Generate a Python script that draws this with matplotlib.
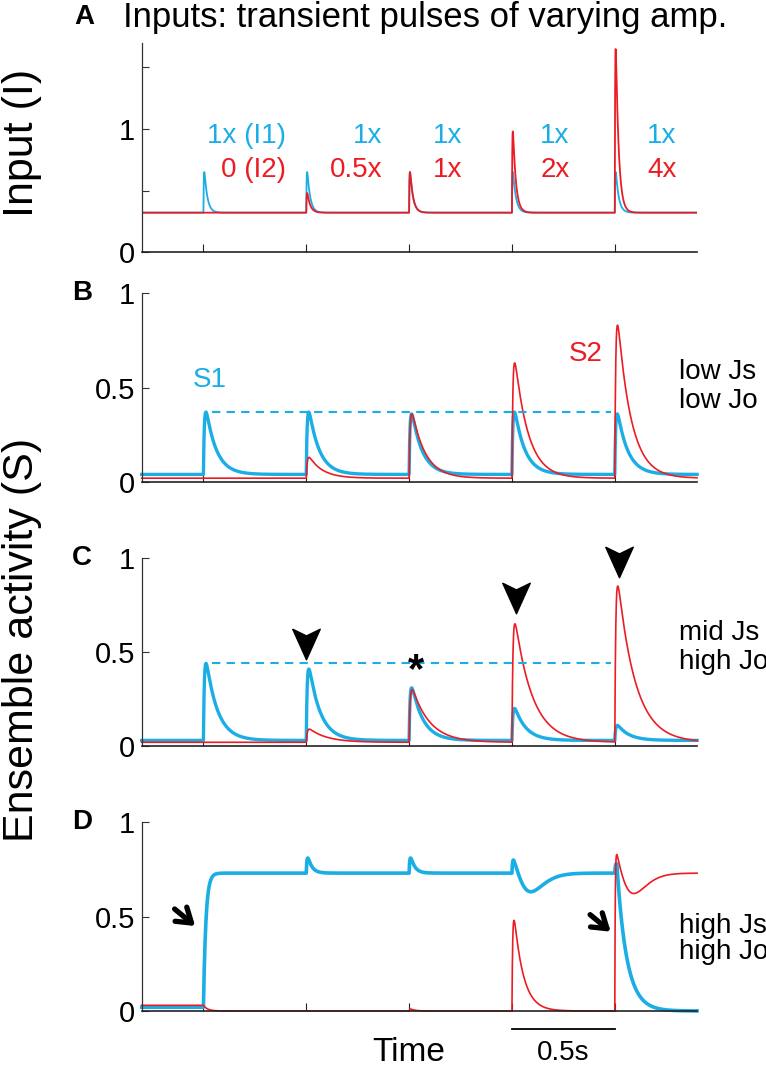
import numpy as np
import matplotlib
matplotlib.use('Agg')
import matplotlib.pyplot as plt

plt.rcParams['font.family'] = ['Liberation Sans', 'DejaVu Sans']

BLUE = '#1BAEE5'
RED = '#EC1C24'

# --- DATA ---
pulse_t = [0.3, 0.8, 1.3, 1.8, 2.3]      # onset of each input pulse (s)
t_end = 2.7

# A: inputs
in_base = 0.32
in1_peak = [0.65, 0.65, 0.65, 0.65, 0.65]
in2_peak = [0.32, 0.48, 0.65, 0.98, 1.65]
lab1 = ['1x (I1)', '1x', '1x', '1x', '1x']
lab2 = ['0 (I2)', '0.5x', '1x', '2x', '4x']
lab_x = [0.70, 1.17, 1.56, 2.08, 2.60]

# B: low Js, low Jo
b_s1_base, b_s2_base = 0.04, 0.02
b_s1_peak = [0.37, 0.37, 0.36, 0.37, 0.36]
b_s2_peak = [0.02, 0.13, 0.36, 0.63, 0.83]
b_ref = 0.37

# C: mid Js, high Jo
c_s1_base, c_s2_base = 0.03, 0.02
c_s1_peak = [0.44, 0.41, 0.31, 0.20, 0.11]
c_s2_peak = [0.02, 0.09, 0.30, 0.65, 0.85]
c_ref = 0.44
c_mark_x = [0.80, 1.82, 2.32]
c_mark_y = [0.545, 0.79, 0.98]
c_star = (1.335, 0.40)

# D: high Js, high Jo
d_s1_base, d_s1_on = 0.02, 0.73
d_s1_bump = [0.0, 0.08, 0.08, 0.07, 0.05]
d_s1_dip = -0.10
d_s2_base, d_s2_on = 0.03, 0.73
d_s2_peak = [0.0, 0.0, 0.01, 0.48, 0.11]
d_s2_dip = -0.11
d_arrow_x = [0.16, 2.18]
d_arrow_y = [0.54, 0.51]

t = np.linspace(0, t_end, 5401)


def kern(t0, tr, td):
    s = np.clip(t - t0, 0, None)
    k = (1 - np.exp(-s / tr)) * np.exp(-s / td)
    return k / k.max()


def step(t0, tau):
    s = np.clip(t - t0, 0, None)
    return 1 - np.exp(-s / tau)


def bump(t0, tpk, n=3):
    s = np.clip(t - t0, 0, None) / tpk
    return s ** n * np.exp(n * (1 - s))


def trace(base, peaks, tr, td):
    y = np.full_like(t, base)
    for t0, p in zip(pulse_t, peaks):
        y += (p - base) * kern(t0, tr, td)
    return y


fig = plt.figure(figsize=(7.66, 10.67), dpi=100)
L, W = 0.185, 0.725
axA = fig.add_axes([L, 0.7638, W, 0.196])
axB = fig.add_axes([L, 0.5483, W, 0.177])
axC = fig.add_axes([L, 0.3008, W, 0.176])
axD = fig.add_axes([L, 0.0525, W, 0.177])

for ax in (axA, axB, axC, axD):
    for s in ('top', 'right'):
        ax.spines[s].set_visible(False)
    ax.spines['left'].set_color('#333333')
    ax.spines['left'].set_linewidth(0.9)
    ax.spines['bottom'].set_color('#222222')
    ax.spines['bottom'].set_linewidth(1.2)
    ax.set_xlim(0, t_end)
    ax.set_xticks(pulse_t)
    ax.tick_params(axis='x', direction='in', length=6, labelbottom=False, color='#222222')
    ax.tick_params(axis='y', direction='in', length=5, labelsize=21, pad=5, color='#333333')

# --- A ---
axA.plot(t, trace(in_base, in1_peak, 0.002, 0.014), color=BLUE, lw=1.3)
axA.plot(t, trace(in_base, in2_peak, 0.002, 0.014), color=RED, lw=1.3)
axA.set_ylim(0, 1.7)
axA.set_yticks([0, 0.5, 1, 1.5])
axA.set_yticklabels(['0', '', '1', ''])
for x, a, b in zip(lab_x, lab1, lab2):
    axA.text(x, 0.94, a, color=BLUE, fontsize=20, ha='right', va='center')
    axA.text(x, 0.67, b, color=RED, fontsize=20, ha='right', va='center')

# --- B, C ---
for ax in (axB, axC, axD):
    ax.set_ylim(0, 1)
    ax.set_yticks([0, 0.5, 1])
    ax.set_yticklabels(['0', '0.5', '1'])

axB.plot(t, trace(b_s1_base, b_s1_peak, 0.005, 0.05), color=BLUE, lw=2.4, clip_on=False)
axB.plot(t, trace(b_s2_base, b_s2_peak, 0.005, 0.065), color=RED, lw=1.2, clip_on=False)
axB.plot([0.34, 2.28], [b_ref, b_ref], color=BLUE, lw=1.5, ls=(0, (4, 3)))
axB.text(0.33, 0.54, 'S1', color=BLUE, fontsize=20, ha='center', va='center')
axB.text(2.16, 0.68, 'S2', color=RED, fontsize=20, ha='center', va='center')
axB.text(2.61, 0.58, 'low Js', fontsize=20, va='center')
axB.text(2.61, 0.43, 'low Jo', fontsize=20, va='center')

c1 = trace(c_s1_base, c_s1_peak, 0.005, 0.055)
c2 = trace(c_s2_base, c_s2_peak, 0.005, 0.085)
axC.plot(t, c1, color=BLUE, lw=2.4, clip_on=False)
axC.plot(t, c2, color=RED, lw=1.2, clip_on=False)
axC.plot([0.34, 2.28], [c_ref, c_ref], color=BLUE, lw=1.5, ls=(0, (4, 3)))
head = [(-0.45, 0.5), (0, -0.5), (0.45, 0.5), (0, 0.28), (-0.45, 0.5)]
axC.plot(c_mark_x, c_mark_y, ls='none', marker=head, ms=22, color='k', clip_on=False)
axC.text(c_star[0], c_star[1], '*', fontsize=30, fontweight='bold', ha='center', va='center')
axC.text(2.61, 0.60, 'mid Js', fontsize=20, va='center')
axC.text(2.61, 0.45, 'high Jo', fontsize=20, va='center')

# --- D ---
d1 = np.full_like(t, d_s1_base) + (d_s1_on - d_s1_base) * step(0.3, 0.012)
for t0, p in zip(pulse_t, d_s1_bump):
    d1 += p * kern(t0, 0.004, 0.02)
d1 += d_s1_dip * bump(1.8, 0.09)
d1 -= d_s1_on * step(2.31, 0.05)
d2 = np.full_like(t, d_s2_base) - d_s2_base * step(0.3, 0.02)
for t0, p in zip(pulse_t, d_s2_peak):
    d2 += p * kern(t0, 0.004, 0.045 if p > 0.2 else 0.02)
d2 += d_s2_on * step(2.3, 0.002)
d2 += d_s2_dip * bump(2.3, 0.09)
axD.plot(t, d1, color=BLUE, lw=2.6, clip_on=False)
axD.plot(t, d2, color=RED, lw=1.2, clip_on=False)
for x, y in zip(d_arrow_x, d_arrow_y):
    axD.annotate('', xy=(x + 0.1, y - 0.09), xytext=(x, y),
                 arrowprops=dict(arrowstyle='->,head_length=0.45,head_width=0.3',
                                 lw=3.8, color='k', mutation_scale=22,
                                 shrinkA=0, shrinkB=0))
axD.text(2.61, 0.45, 'high Js', fontsize=20, va='center')
axD.text(2.61, 0.31, 'high Jo', fontsize=20, va='center')

# scale bar + time label
axD.plot([1.8, 2.3], [-0.095, -0.095], color='k', lw=1.3, clip_on=False)
axD.text(2.05, -0.22, '0.5s', fontsize=20, ha='center', va='center')
axD.text(1.3, -0.22, 'Time', fontsize=24, ha='center', va='center')

# --- labels ---
fig.text(0.097, 0.984, 'A', fontsize=20, fontweight='bold', va='center')
fig.text(0.16, 0.984, 'Inputs: transient pulses of varying amp.', fontsize=25, va='center')
for ax, lab in ((axB, 'B'), (axC, 'C'), (axD, 'D')):
    top = ax.get_position().y1
    fig.text(0.094, top, lab, fontsize=20, fontweight='bold', va='center', ha='left')
fig.text(0.029, 0.866, 'Input (I)', fontsize=31, rotation=90, ha='center', va='center')
fig.text(0.029, 0.40, 'Ensemble activity (S)', fontsize=31, rotation=90, ha='center', va='center')

fig.savefig('out.png', dpi=100)
